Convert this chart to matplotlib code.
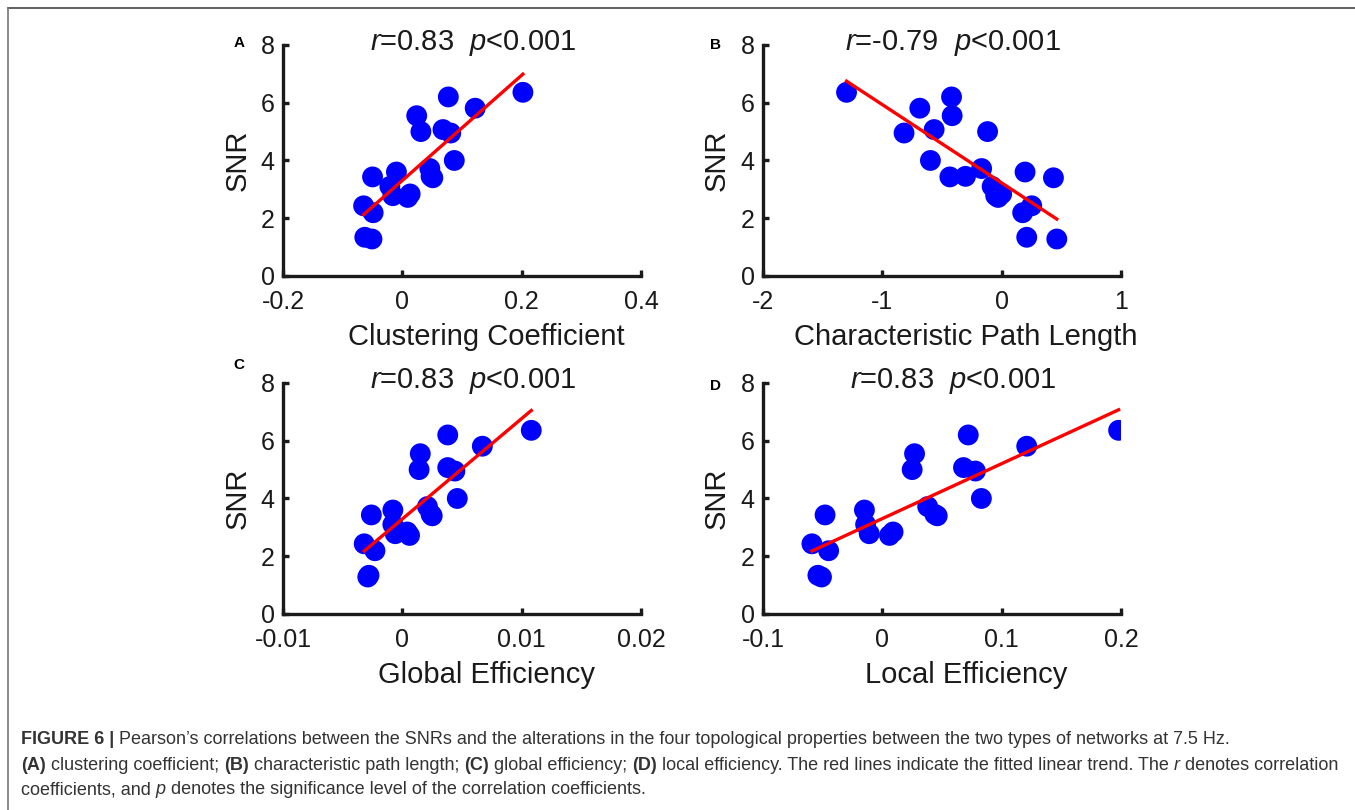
import numpy as np
import matplotlib.pyplot as plt

plt.rcParams['font.family'] = ['Liberation Sans', 'DejaVu Sans']
plt.rcParams['mathtext.fontset'] = 'custom'
plt.rcParams['mathtext.rm'] = 'Liberation Sans'
plt.rcParams['mathtext.it'] = 'Liberation Sans:italic'

# --- data: SNR per subject and the change in each topological property ---
snr = [1.28, 1.34, 2.19, 2.43, 2.72, 2.78, 2.84, 3.10, 3.40, 3.43, 3.45,
       3.60, 3.72, 4.00, 4.95, 5.00, 5.07, 5.55, 5.81, 6.20, 6.36]

clustering = [-0.051, -0.063, -0.049, -0.065, 0.009, -0.016, 0.013, -0.021, 0.051, -0.050, 0.048,
              -0.010, 0.046, 0.087, 0.081, 0.031, 0.068, 0.024, 0.122, 0.077, 0.202]
path_length = [0.462, 0.21, 0.176, 0.252, -0.03, -0.05, 0.0, -0.08, 0.434, -0.434, -0.303,
               0.196, -0.168, -0.597, -0.818, -0.118, -0.566, -0.415, -0.686, -0.42, -1.30]
global_eff = [-0.0029, -0.0028, -0.0023, -0.0032, 0.0006, -0.0006, 0.0004, -0.0008, 0.0025, -0.0026, 0.0024,
              -0.0008, 0.0021, 0.0046, 0.0044, 0.0014, 0.0038, 0.0015, 0.0067, 0.0038, 0.0108]
local_eff = [-0.051, -0.054, -0.045, -0.059, 0.006, -0.011, 0.009, -0.014, 0.046, -0.048, 0.044,
             -0.015, 0.038, 0.083, 0.078, 0.025, 0.068, 0.027, 0.121, 0.072, 0.198]

letters = ['A', 'B', 'C', 'D']
xlabels = ['Clustering Coefficient', 'Characteristic Path Length',
           'Global Efficiency', 'Local Efficiency']
r_values = ['0.83', '-0.79', '0.83', '0.83']
xticks = [[-0.2, 0, 0.2, 0.4], [-2, -1, 0, 1], [-0.01, 0, 0.01, 0.02], [-0.1, 0, 0.1, 0.2]]
xticklabels = [['-0.2', '0', '0.2', '0.4'], ['-2', '-1', '0', '1'],
               ['-0.01', '0', '0.01', '0.02'], ['-0.1', '0', '0.1', '0.2']]
yticks = [0, 2, 4, 6, 8]
xdata = [clustering, path_length, global_eff, local_eff]

fig = plt.figure(figsize=(13.55, 8.10), dpi=100)

# panel positions (figure fractions)
lefts = [0.2089, 0.5631, 0.2089, 0.5631]
bottoms = [0.6593, 0.6593, 0.2420, 0.2420]
w, h = 0.2642, 0.2852
letter_pos = [(239 / 1355, 1 - 43 / 810), (716 / 1355, 1 - 45 / 810),
              (239 / 1355, 1 - 365 / 810), (716 / 1355, 1 - 386 / 810)]
ink = '#1a1a1a'

for i in range(4):
    ax = fig.add_axes([lefts[i], bottoms[i], w, h])
    x = np.array(xdata[i])
    y = np.array(snr)
    ax.scatter(x, y, s=225, color='blue', edgecolors='none', zorder=2)
    k, b = np.polyfit(x, y, 1)
    xl = np.array([x.min(), x.max()])
    ax.plot(xl, k * xl + b, color='red', lw=2.4, zorder=3)

    ax.set_xlim(xticks[i][0], xticks[i][-1])
    ax.set_ylim(0, 8)
    ax.set_xticks(xticks[i])
    ax.set_xticklabels(xticklabels[i])
    ax.set_yticks(yticks)
    for s in ['top', 'right']:
        ax.spines[s].set_visible(False)
    for s in ['left', 'bottom']:
        ax.spines[s].set_linewidth(2.4)
        ax.spines[s].set_color(ink)
    ax.tick_params(direction='in', length=4, width=2.4, labelsize=18,
                   colors=ink)
    ax.tick_params(axis='x', pad=10)
    ax.tick_params(axis='y', pad=6)
    ax.text(0.567, -0.265, xlabels[i], transform=ax.transAxes, fontsize=21,
            ha='center', va='center', color=ink)
    ax.text(-0.128, 0.5, 'SNR', transform=ax.transAxes, fontsize=21,
            rotation=90, ha='center', va='center', color=ink)
    ax.text(0.53, 1.008, r'$r$=' + r_values[i] + r'  $p$<0.001',
            transform=ax.transAxes, fontsize=21, ha='center', va='center', color=ink)
    fig.text(letter_pos[i][0], letter_pos[i][1], letters[i], fontsize=11,
             fontweight='bold', ha='center', va='center')

# --- frame and caption ---
cap = fig.add_axes([0, 0, 1, 1], zorder=-1)
cap.axis('off')
cap.set_xlim(0, 1)
cap.set_ylim(0, 1)
cap.plot([0.0057, 1.0], [0.990, 0.990], color='#444444', lw=1.2, clip_on=False)
cap.plot([0.0057, 0.0057], [0.0, 0.990], color='#777777', lw=1.2, clip_on=False)

cap_color = '#333333'
cap_size = 13
lines = [
    [("FIGURE 6 | ", 'bold', 'normal'),
     ("Pearson\u2019s correlations between the SNRs and the alterations in the four topological "
      "properties between the two types of networks at 7.5 Hz.", 'normal', 'normal')],
    [("(A)", 'bold', 'normal'), (" clustering coefficient; ", 'normal', 'normal'),
     ("(B)", 'bold', 'normal'), (" characteristic path length; ", 'normal', 'normal'),
     ("(C)", 'bold', 'normal'), (" global efficiency; ", 'normal', 'normal'),
     ("(D)", 'bold', 'normal'),
     (" local efficiency. The red lines indicate the fitted linear trend. The ", 'normal', 'normal'),
     ("r", 'normal', 'italic'), (" denotes correlation", 'normal', 'normal')],
    [("coefficients, and ", 'normal', 'normal'), ("p", 'normal', 'italic'),
     (" denotes the significance level of the correlation coefficients.", 'normal', 'normal')],
]
line_y = [1 - 739 / 810, 1 - 765 / 810, 1 - 790 / 810]

for ly, parts in zip(line_y, lines):
    prev = None
    for txt, wt, st in parts:
        if prev is None:
            prev = cap.text(0.0155, ly, txt, fontsize=cap_size, fontweight=wt,
                            style=st, color=cap_color, va='center', ha='left')
        else:
            prev = cap.annotate(txt, xy=(1, 0), xycoords=prev, va='bottom', ha='left',
                                fontsize=cap_size, fontweight=wt, style=st,
                                color=cap_color)

fig.savefig('out.png', dpi=100)
